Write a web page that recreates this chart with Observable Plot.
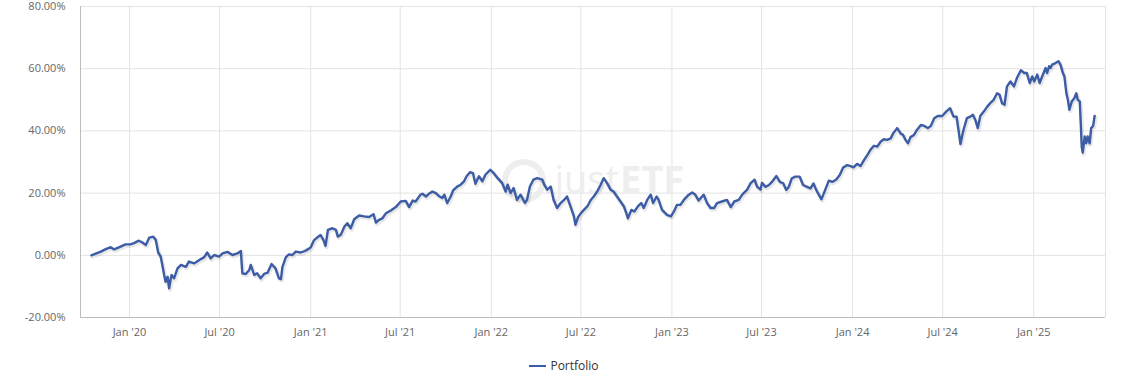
<!DOCTYPE html>
<html>
<head>
<meta charset="utf-8">
<script src="https://cdn.jsdelivr.net/npm/d3@7"></script>
<script src="https://cdn.jsdelivr.net/npm/@observablehq/plot@0.6"></script>
<style>
  html, body { margin: 0; padding: 0; background: #fff; }
  body { font-family: "Open Sans", sans-serif; width: 1123px; }
  #chart svg { display: block; }
  .legend { margin-top: 11px; height: 20px; line-height: 20px; text-align: center; font-size: 12px; color: #333; padding-left: 5px; }
  .legend .swatch { display: inline-block; width: 17px; height: 2px; background: #3d5ca6; vertical-align: middle; margin-right: 4px; position: relative; top: -1px; }
</style>
</head>
<body>
<div id="chart"></div>
<div class="legend" id="legend"></div>
<script>
// ---- data ----
const seriesName = "Portfolio";
const dates = [
  "2019-10-16","2019-11-04","2019-11-14","2019-11-24","2019-12-01","2019-12-14","2019-12-24",
  "2020-01-03","2020-01-10","2020-01-20","2020-01-27","2020-02-03","2020-02-10","2020-02-18","2020-02-23","2020-02-28",
  "2020-03-04","2020-03-08","2020-03-11","2020-03-14","2020-03-18","2020-03-21","2020-03-26","2020-03-31",
  "2020-04-07","2020-04-14","2020-04-24","2020-04-30","2020-05-11","2020-05-21","2020-05-31",
  "2020-06-06","2020-06-13","2020-06-20","2020-06-30","2020-07-07","2020-07-17","2020-07-27",
  "2020-08-06","2020-08-13","2020-08-16","2020-08-23","2020-08-30","2020-09-02","2020-09-09","2020-09-15","2020-09-22","2020-09-29",
  "2020-10-06","2020-10-14","2020-10-22","2020-10-29","2020-11-02","2020-11-05","2020-11-12","2020-11-18","2020-11-25",
  "2020-12-02","2020-12-12","2020-12-22",
  "2021-01-01","2021-01-08","2021-01-15","2021-01-21","2021-01-27","2021-01-31","2021-02-05","2021-02-14","2021-02-21","2021-02-25",
  "2021-03-03","2021-03-10","2021-03-16","2021-03-23","2021-03-30","2021-04-09","2021-04-19","2021-04-29",
  "2021-05-08","2021-05-13","2021-05-19","2021-05-26","2021-06-02","2021-06-12","2021-06-22",
  "2021-07-02","2021-07-12","2021-07-19","2021-07-26","2021-08-01","2021-08-11",
  "2021-08-15","2021-08-22","2021-08-28","2021-09-04","2021-09-11","2021-09-17","2021-09-24","2021-09-28",
  "2021-10-04","2021-10-11","2021-10-16","2021-10-24","2021-10-31","2021-11-07","2021-11-12","2021-11-19","2021-11-25","2021-11-30",
  "2021-12-07","2021-12-14","2021-12-20","2021-12-30",
  "2022-01-06","2022-01-14","2022-01-23","2022-01-30","2022-02-03","2022-02-09","2022-02-15","2022-02-22",
  "2022-03-01","2022-03-10","2022-03-14","2022-03-20","2022-03-27","2022-04-04","2022-04-14","2022-04-18","2022-04-24",
  "2022-05-01","2022-05-07","2022-05-14","2022-05-21","2022-05-28","2022-06-03","2022-06-10","2022-06-17","2022-06-20","2022-06-26",
  "2022-07-01","2022-07-07","2022-07-14","2022-07-21","2022-07-27","2022-08-03","2022-08-10","2022-08-16","2022-08-23","2022-08-30",
  "2022-09-05","2022-09-12","2022-09-19","2022-09-26","2022-10-01","2022-10-04","2022-10-11","2022-10-17","2022-10-25","2022-10-31",
  "2022-11-05","2022-11-12","2022-11-19","2022-11-24","2022-12-01","2022-12-05","2022-12-12","2022-12-22","2022-12-30",
  "2023-01-05","2023-01-11","2023-01-18","2023-01-25","2023-02-04","2023-02-11","2023-02-17","2023-02-24",
  "2023-03-06","2023-03-13","2023-03-20","2023-03-27","2023-04-02","2023-04-12","2023-04-22","2023-04-30",
  "2023-05-07","2023-05-16","2023-05-23","2023-06-02","2023-06-09","2023-06-17","2023-06-22","2023-06-29",
  "2023-07-02","2023-07-09","2023-07-16","2023-07-22","2023-07-31","2023-08-07","2023-08-14","2023-08-20","2023-08-25","2023-08-31",
  "2023-09-07","2023-09-16","2023-09-23","2023-10-01","2023-10-08","2023-10-14","2023-10-19","2023-10-25","2023-10-30",
  "2023-11-05","2023-11-14","2023-11-21","2023-11-29","2023-12-06","2023-12-13","2023-12-21","2023-12-28",
  "2024-01-03","2024-01-10","2024-01-17","2024-01-24","2024-01-31","2024-02-06","2024-02-13","2024-02-20","2024-02-27",
  "2024-03-04","2024-03-11","2024-03-18","2024-03-23","2024-03-31","2024-04-07","2024-04-12","2024-04-17","2024-04-22","2024-04-27",
  "2024-05-04","2024-05-10","2024-05-18","2024-05-25","2024-06-01","2024-06-07","2024-06-14","2024-06-21","2024-06-30",
  "2024-07-08","2024-07-16","2024-07-23","2024-07-29","2024-08-02","2024-08-06","2024-08-12","2024-08-19","2024-08-26","2024-08-31",
  "2024-09-05","2024-09-10","2024-09-15","2024-09-22","2024-09-29","2024-10-05","2024-10-12","2024-10-19","2024-10-24","2024-10-29",
  "2024-11-03","2024-11-08","2024-11-15","2024-11-22","2024-11-28","2024-12-06","2024-12-13","2024-12-18","2024-12-24","2024-12-29",
  "2025-01-02","2025-01-08","2025-01-13","2025-01-18","2025-01-25","2025-01-28","2025-02-01","2025-02-04","2025-02-07","2025-02-14",
  "2025-02-20","2025-02-24","2025-03-01","2025-03-04","2025-03-08","2025-03-11","2025-03-14","2025-03-19","2025-03-24","2025-03-28",
  "2025-03-31","2025-04-04","2025-04-06","2025-04-08","2025-04-10","2025-04-14","2025-04-17","2025-04-20","2025-04-24","2025-04-27",
  "2025-05-01","2025-05-04"
];
const values = [
  0.0,1.2,2.0,2.6,1.9,2.8,3.5,
  3.5,3.9,4.7,4.1,3.3,5.7,6.0,5.0,0.9,
  -0.4,-3.7,-6.3,-8.5,-6.9,-10.6,-6.3,-7.4,
  -4.2,-3.1,-3.7,-2.0,-2.6,-1.5,-0.6,
  0.9,-1.0,0.1,-0.4,0.6,1.1,0.1,
  0.6,1.4,-5.8,-6.0,-4.7,-3.1,-6.3,-5.8,-7.4,-6.0,
  -5.6,-2.8,-4.2,-7.4,-7.7,-3.7,-0.6,0.3,0.1,
  1.2,0.9,1.5,
  2.5,4.9,5.8,6.5,4.9,3.0,8.2,8.7,8.2,6.0,
  6.6,9.2,10.3,8.7,11.6,12.8,12.5,12.3,
  13.2,10.5,11.4,11.9,13.5,14.4,15.5,
  17.3,17.5,15.5,17.6,17.3,19.5,
  19.8,18.9,19.8,20.5,20.0,19.1,18.4,19.5,
  16.8,18.9,20.9,22.1,22.7,23.8,25.4,26.7,26.4,23.0,
  25.4,23.8,25.9,27.5,
  26.4,24.8,23.2,20.5,22.7,20.0,21.6,17.8,
  19.5,16.8,17.8,22.1,24.3,24.8,24.3,22.7,21.1,
  22.1,17.8,15.2,16.8,17.8,18.9,15.7,12.5,9.8,12.5,
  13.5,14.6,15.7,17.8,18.9,20.5,22.7,24.8,23.2,21.1,
  20.5,18.9,17.3,15.7,13.5,11.9,14.6,14.1,15.9,16.8,
  15.2,17.8,19.5,16.8,18.9,17.8,14.6,13.0,12.5,
  14.1,16.2,16.2,17.8,19.5,20.2,19.5,17.6,
  19.5,16.8,15.2,15.2,16.8,17.3,17.8,15.5,
  17.3,17.8,19.5,21.1,23.2,24.3,22.1,21.1,
  23.3,22.0,22.6,23.6,25.5,23.6,23.1,21.0,22.0,24.7,
  25.3,25.3,22.6,22.0,21.5,23.1,21.2,19.4,18.0,
  20.4,24.0,23.6,24.4,25.8,28.2,29.0,28.7,
  28.3,29.4,28.7,30.6,32.3,33.9,35.2,35.0,36.6,
  37.3,37.1,37.6,39.2,40.9,39.2,38.7,37.1,36.0,38.0,
  38.7,40.3,41.9,41.6,40.9,41.6,44.1,44.8,44.8,
  46.2,47.3,44.6,44.6,40.3,35.8,40.3,44.1,44.6,45.2,
  43.5,40.9,44.8,46.2,47.8,48.9,50.0,52.1,51.6,48.9,
  48.4,54.3,55.9,54.3,57.0,59.5,58.6,58.6,55.4,57.5,
  55.9,58.1,55.4,57.5,60.2,58.6,60.8,60.2,61.3,61.8,
  62.4,61.3,58.6,57.5,52.1,50.0,46.8,49.5,50.5,52.1,
  50.0,49.5,42.5,34.9,33.0,38.2,36.0,38.2,36.0,40.9,
  41.6,44.8
];
const xTicks = ["2020-01-01","2020-07-01","2021-01-01","2021-07-01","2022-01-01","2022-07-01",
                "2023-01-01","2023-07-01","2024-01-01","2024-07-01","2025-01-01"];
const yTicks = [-20, 0, 20, 40, 60, 80];
const xDomain = ["2019-09-24", "2025-05-26"];
const yDomain = [-20, 80];
const watermarkParts = ["just", "ETF"];

// ---- build ----
const lineColor = "#3d5ca6";
const data = dates.map((d, i) => ({date: new Date(d), value: values[i]}));
const xTickDates = xTicks.map(d => new Date(d));
const xDom = xDomain.map(d => new Date(d));
const fmtX = d3.utcFormat("%b '%y");

const chart = Plot.plot({
  width: 1123,
  height: 345,
  marginLeft: 80,
  marginRight: 18,
  marginTop: 6,
  marginBottom: 28,
  style: {fontFamily: "'Open Sans', sans-serif", fontSize: "11px", color: "#666", background: "#fff", overflow: "visible"},
  x: {type: "utc", domain: xDom},
  y: {domain: yDomain},
  marks: [
    Plot.ruleY(yTicks.slice(1), {stroke: "#e3e3e3", strokeWidth: 1}),
    Plot.ruleX(xTickDates, {stroke: "#e3e3e3", strokeWidth: 1}),
    Plot.ruleX([xDom[1]], {stroke: "#e3e3e3", strokeWidth: 1}),
    // watermark
    Plot.dot([watermarkParts[0]], {frameAnchor: "middle", dx: -69, dy: 19, r: 19, stroke: "#eeeeee", strokeWidth: 6, fill: "none"}),
    Plot.text([watermarkParts[0]], {frameAnchor: "middle", text: d => d, textAnchor: "end", dx: 26, dy: 19, fontSize: 38, fill: "#eeeeee", fontWeight: 400}),
    Plot.text([watermarkParts[1]], {frameAnchor: "middle", text: d => d, textAnchor: "start", dx: 27, dy: 19, fontSize: 38, fill: "#eeeeee", fontWeight: 700}),
    // axis lines
    Plot.ruleY([yDomain[0]], {stroke: "#bdbdbd", strokeWidth: 1}),
    Plot.ruleX([xDom[0]], {stroke: "#bdbdbd", strokeWidth: 1}),
    Plot.axisY(yTicks, {tickSize: 0, tickPadding: 15, tickFormat: d => d.toFixed(2) + "%", label: null, fill: "#666"}),
    Plot.axisX(xTickDates, {tickSize: 0, tickPadding: 11, tickFormat: fmtX, label: null, fill: "#666"}),
    // series (with light shadow like the original)
    Plot.lineY(data, {x: "date", y: "value", stroke: "#000", strokeOpacity: 0.09, strokeWidth: 4, dx: 1, dy: 1.5}),
    Plot.lineY(data, {x: "date", y: "value", stroke: lineColor, strokeWidth: 2.4, strokeLinejoin: "round"})
  ]
});
document.getElementById("chart").appendChild(chart);

const legend = document.getElementById("legend");
legend.innerHTML = '<span class="swatch"></span><span></span>';
legend.lastChild.textContent = seriesName;
</script>
</body>
</html>
